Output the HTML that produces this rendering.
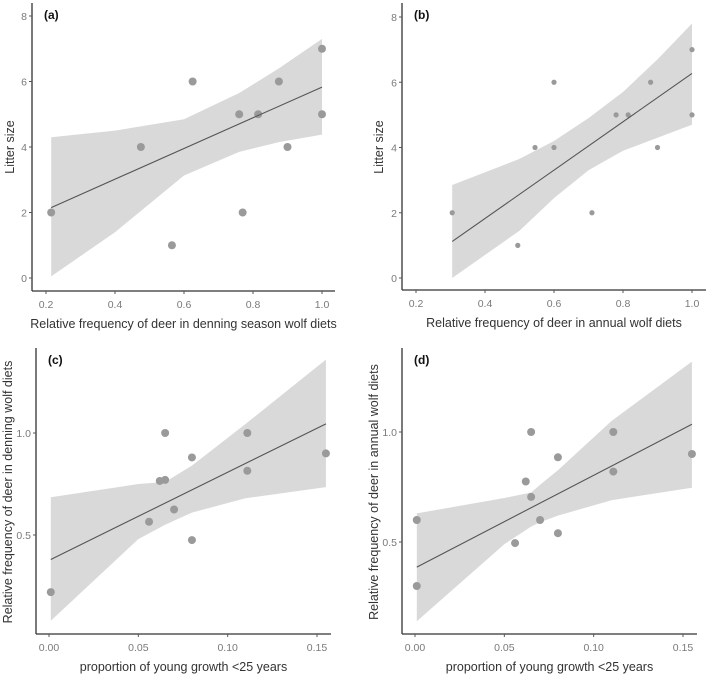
<!DOCTYPE html>
<html><head><meta charset="utf-8"><style>
html,body{margin:0;padding:0;background:#fff;width:709px;height:676px;overflow:hidden}
svg{display:block}
text{font-family:"Liberation Sans",Arial,sans-serif}
</style></head><body>
<svg id="fig" width="709" height="676" viewBox="0 0 709 676" xmlns="http://www.w3.org/2000/svg"></svg>
<script>
// Panel (a)
const aX=[0.215,0.475,0.565,0.625,0.76,0.77,0.815,0.875,0.9,1.0,1.0];
const aY=[2,4,1,6,5,2,5,6,4,7,5];
const aFit=[[0.215,2.15],[1.0,5.83]];
const aBandX=[0.215,0.4,0.6,0.76,0.875,1.0];
const aBandHi=[4.3,4.5,4.85,5.65,6.4,7.3];
const aBandLo=[0.05,1.4,3.13,3.85,4.15,4.38];
// Panel (b)
const bX=[0.305,0.495,0.545,0.6,0.6,0.71,0.78,0.815,0.88,0.9,1.0,1.0];
const bY=[2,1,4,6,4,2,5,5,6,4,7,5];
const bFit=[[0.305,1.12],[1.0,6.27]];
const bBandX=[0.305,0.5,0.6,0.7,0.8,0.9,1.0];
const bBandHi=[2.85,3.65,4.2,4.9,5.7,6.7,7.8];
const bBandLo=[0.0,1.45,2.45,3.3,3.9,4.3,4.7];
// Panel (c)
const cX=[0.001,0.056,0.062,0.065,0.065,0.07,0.08,0.08,0.111,0.111,0.155];
const cY=[0.22,0.565,0.765,0.77,1.0,0.625,0.88,0.475,1.0,0.815,0.9];
const cFit=[[0.001,0.38],[0.155,1.045]];
const cBandX=[0.001,0.05,0.065,0.08,0.11,0.155];
const cBandHi=[0.685,0.75,0.76,0.84,1.044,1.36];
const cBandLo=[0.08,0.48,0.55,0.61,0.68,0.735];
// Panel (d)
const dX=[0.001,0.001,0.056,0.062,0.065,0.065,0.07,0.08,0.08,0.111,0.111,0.155];
const dY=[0.6,0.3,0.495,0.775,0.705,1.0,0.6,0.885,0.54,1.0,0.82,0.155*0+0.9];
const dFit=[[0.001,0.386],[0.155,1.035]];
const dBandX=[0.001,0.05,0.065,0.07,0.08,0.11,0.155];
const dBandHi=[0.63,0.7,0.725,0.76,0.826,1.05,1.32];
const dBandLo=[0.14,0.49,0.57,0.59,0.62,0.69,0.747];
// ticks
const litterTicks=[0,2,4,6,8];
const freqTicks=[0.2,0.4,0.6,0.8,1.0];
const freqTickLabels=["0.2","0.4","0.6","0.8","1.0"];
const youngTicks=[0,0.05,0.10,0.15];
const youngTickLabels=["0.00","0.05","0.10","0.15"];
const propTicks=[0.5,1.0];
const propTickLabels=["0.5","1.0"];

const NS="http://www.w3.org/2000/svg";
const svg=document.getElementById('fig');
function mk(tag,attrs,parent){const e=document.createElementNS(NS,tag);for(const k in attrs)e.setAttribute(k,attrs[k]);(parent||svg).appendChild(e);return e;}

function panel(p){
  const g=mk('g',{});
  
  
  const sx=v=>p.px0+(v-p.x0)*(p.px1-p.px0)/(p.x1-p.x0);
  const sy=v=>p.py0+(v-p.y0)*(p.py1-p.py0)/(p.y1-p.y0);
  // band
  let d='';
  p.bx.forEach((x,i)=>{d+=(i?'L':'M')+sx(x).toFixed(1)+','+sy(p.hi[i]).toFixed(1);});
  for(let i=p.bx.length-1;i>=0;i--)d+='L'+sx(p.bx[i]).toFixed(1)+','+sy(p.lo[i]).toFixed(1);
  const band=mk('path',{d:d+'Z',fill:'#d9d9d9'},g);
  
  
  // points
  p.xs.forEach((x,i)=>{
    const c=mk('circle',{cx:sx(x),cy:sy(p.ys[i]),r:p.r,fill:'#9a9a9a'},g);
    
    
  });
  // fit
  const ln=mk('line',{x1:sx(p.fit[0][0]),y1:sy(p.fit[0][1]),x2:sx(p.fit[1][0]),y2:sy(p.fit[1][1]),stroke:'#555','stroke-width':1.1},g);
  
  
  // axes
  const ya=mk('line',{x1:p.ax,y1:p.atop,x2:p.ax,y2:p.ay,stroke:'#333','stroke-width':1.3},g);
  
  
  const xa=mk('line',{x1:p.ax,y1:p.ay,x2:p.aright,y2:p.ay,stroke:'#333','stroke-width':1.3},g);
  
  
  p.xt.forEach((v,i)=>{
    mk('line',{x1:sx(v),y1:p.ay,x2:sx(v),y2:p.ay+3,stroke:'#555'},g);
    const t=mk('text',{x:sx(v),y:p.ay+17,'font-size':10.5,fill:'#7a7a7a','text-anchor':'middle'},g);
    t.textContent=p.xtl[i];
    
    
  });
  p.yt.forEach((v,i)=>{
    mk('line',{x1:p.ax-3,y1:sy(v),x2:p.ax,y2:sy(v),stroke:'#555'},g);
    const t=mk('text',{x:p.ax-5,y:sy(v)+4,'font-size':10.5,fill:'#7a7a7a','text-anchor':'end'},g);
    t.textContent=p.ytl[i];
    
    
  });
  const xt=mk('text',{x:(p.ax+p.aright)/2,y:p.ay+37,'font-size':12.5,fill:'#333','text-anchor':'middle'},g);
  xt.textContent=p.xtitle;
  
  
  const yt=mk('text',{x:0,y:0,'font-size':12.5,fill:'#333','text-anchor':'middle',transform:`translate(${p.ytx},${p.yty}) rotate(-90)`},g);
  yt.textContent=p.ytitle;
  
  
  const lb=mk('text',{x:p.ax+12,y:p.atop+16,'font-size':12,'font-weight':'bold',fill:'#111'},g);
  lb.textContent='('+p.id+')';
  
  
}

panel({id:'a',xs:aX,ys:aY,fit:aFit,bx:aBandX,hi:aBandHi,lo:aBandLo,r:4,
  x0:0.2,x1:1.0,px0:46,px1:322,y0:0,y1:8,py0:278,py1:16,
  ax:32,ay:291,atop:3,aright:335,xt:freqTicks,xtl:freqTickLabels,yt:litterTicks,ytl:litterTicks.map(String),
  xtitle:'Relative frequency of deer in denning season wolf diets',ytitle:'Litter size',ytx:14,yty:147});
panel({id:'b',xs:bX,ys:bY,fit:bFit,bx:bBandX,hi:bBandHi,lo:bBandLo,r:2.6,
  x0:0.2,x1:1.0,px0:416,px1:692,y0:0,y1:8,py0:278,py1:17,
  ax:402,ay:290,atop:3,aright:706,xt:freqTicks,xtl:freqTickLabels,yt:litterTicks,ytl:litterTicks.map(String),
  xtitle:'Relative frequency of deer in annual wolf diets',ytitle:'Litter size',ytx:383,yty:147});
panel({id:'c',xs:cX,ys:cY,fit:cFit,bx:cBandX,hi:cBandHi,lo:cBandLo,r:4,
  x0:0,x1:0.15,px0:49,px1:317,y0:0.5,y1:1.0,py0:535,py1:433,
  ax:36,ay:634,atop:348,aright:331,xt:youngTicks,xtl:youngTickLabels,yt:propTicks,ytl:propTickLabels,
  xtitle:'proportion of young growth <25 years',ytitle:'Relative frequency of deer in denning wolf diets',ytx:12,yty:492});
panel({id:'d',xs:dX,ys:dY,fit:dFit,bx:dBandX,hi:dBandHi,lo:dBandLo,r:4,
  x0:0,x1:0.15,px0:415,px1:683,y0:0.5,y1:1.0,py0:542,py1:432,
  ax:402,ay:634,atop:348,aright:697,xt:youngTicks,xtl:youngTickLabels,yt:propTicks,ytl:propTickLabels,
  xtitle:'proportion of young growth <25 years',ytitle:'Relative frequency of deer in annual wolf diets',ytx:378,yty:492});
</script>
</body></html>
